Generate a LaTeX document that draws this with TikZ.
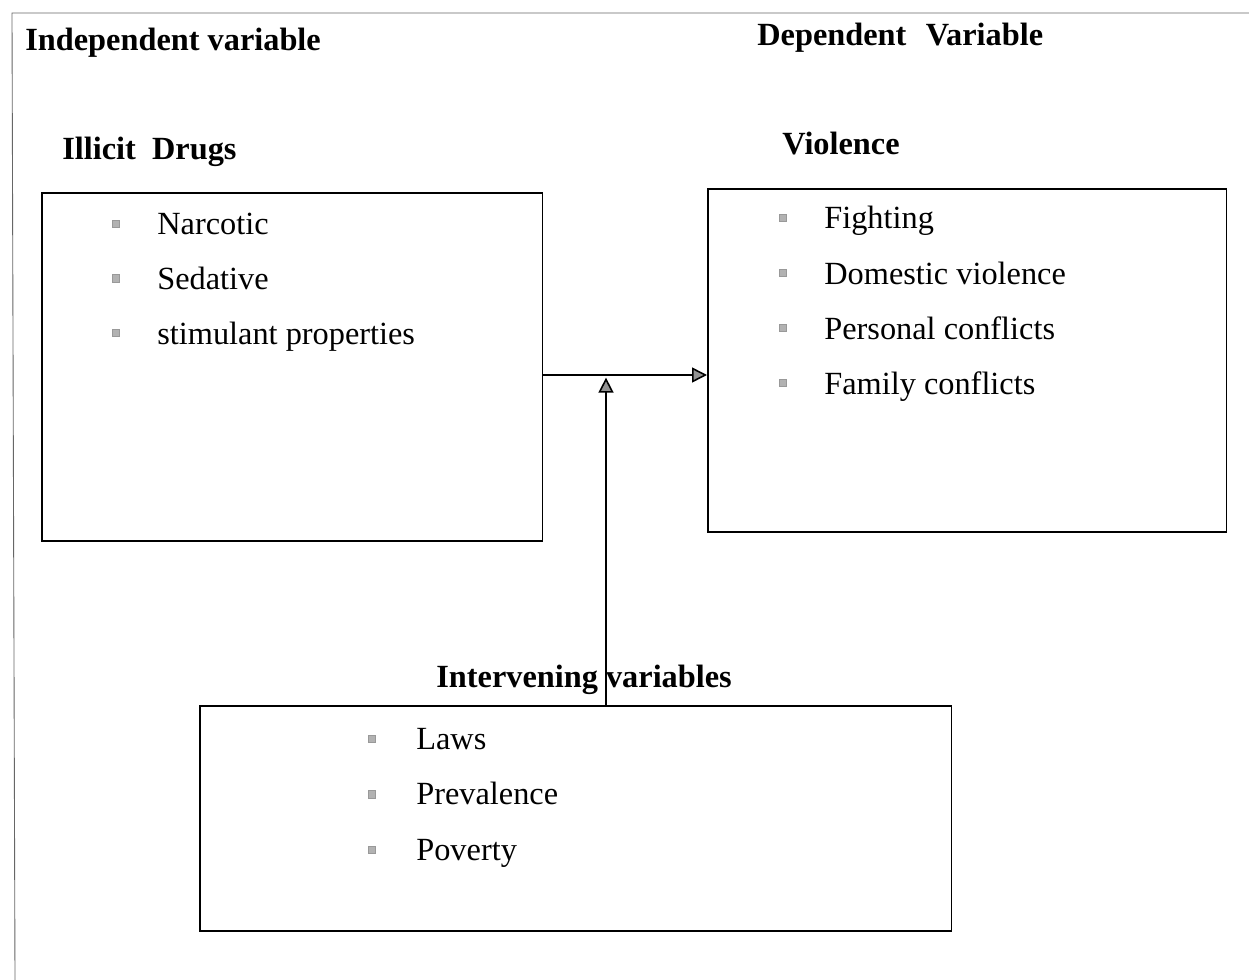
\documentclass[tikz,border=0pt]{standalone}
\usepackage{fontspec}
\setmainfont{Liberation Serif}
\usetikzlibrary{arrows.meta,positioning}
\newcommand{\letra}{\fontsize{18.4}{22}\selectfont}
\tikzset{
  caixa/.style={rectangle, draw=black, line width=0.9pt, inner sep=0pt,
                anchor=north west},
  titulo/.style={anchor=base west, inner sep=0pt, font=\letra\bfseries},
  item/.style={anchor=base west, inner sep=0pt, font=\letra},
  marca/.style={rectangle, draw=gray!80, fill=gray!60, line width=0.4pt,
                minimum size=0.15cm, inner sep=0pt},
  seta/.style={-{Triangle[length=0.3cm, width=0.3cm, fill=gray!85]},
               line width=0.9pt, black},
  moldura/.style={line width=0.5pt, gray!80!black},
}

\begin{document}
\begin{tikzpicture}[x=0.02cm, y=-0.02cm]
  \useasboundingbox (0,0) rectangle (1249,980);
  \draw[moldura] (1249,13) -- (12,13) -- (15,980);

  % titulos
  \node[titulo] (indep) at (25,51) {Independent variable};
  \node[titulo] (dep) at (757,46) {Dependent\hspace{0.6em}Variable};
  \node[titulo] (ilicit) at (62,160) {Illicit\hspace{0.5em}Drugs};
  \node[titulo] (viol) at (782,155) {Violence};

  % caixas
  \node[caixa, minimum width=10.02cm, minimum height=6.96cm] (drogas) at (41,192) {};
  \node[caixa, minimum width=10.38cm, minimum height=6.86cm] (violencia) at (707,188) {};
  \node[caixa, minimum width=15.04cm, minimum height=4.5cm] (interv) at (199,705) {};
  \node[titulo] (intervtit) at (436,687) {Intervening variables};

  % itens
  \foreach \t [count=\i] in {Narcotic, Sedative, stimulant properties} {
    \node[marca] (mA\i) at (116,{224+54.5*(\i-1)}) {};
    \node[item] (tA\i) at (157,{235+54.5*(\i-1)}) {\t};
  }
  \foreach \t [count=\i] in {Fighting, Domestic violence, Personal conflicts, Family conflicts} {
    \node[marca] (mB\i) at (783,{218+55*(\i-1)}) {};
    \node[item] (tB\i) at (824,{229+55*(\i-1)}) {\t};
  }
  \foreach \t [count=\i] in {Laws, Prevalence, Poverty} {
    \node[marca] (mC\i) at (372,{739+55.5*(\i-1)}) {};
    \node[item] (tC\i) at (416,{749+55.5*(\i-1)}) {\t};
  }

  % setas
  \coordinate (juncao) at (606,375);
  \draw[seta] (drogas.east |- juncao) -- (violencia.west |- juncao);
  \draw[seta, shorten >=1.5pt] (interv.north -| juncao) -- (juncao);
\end{tikzpicture}
\end{document}
